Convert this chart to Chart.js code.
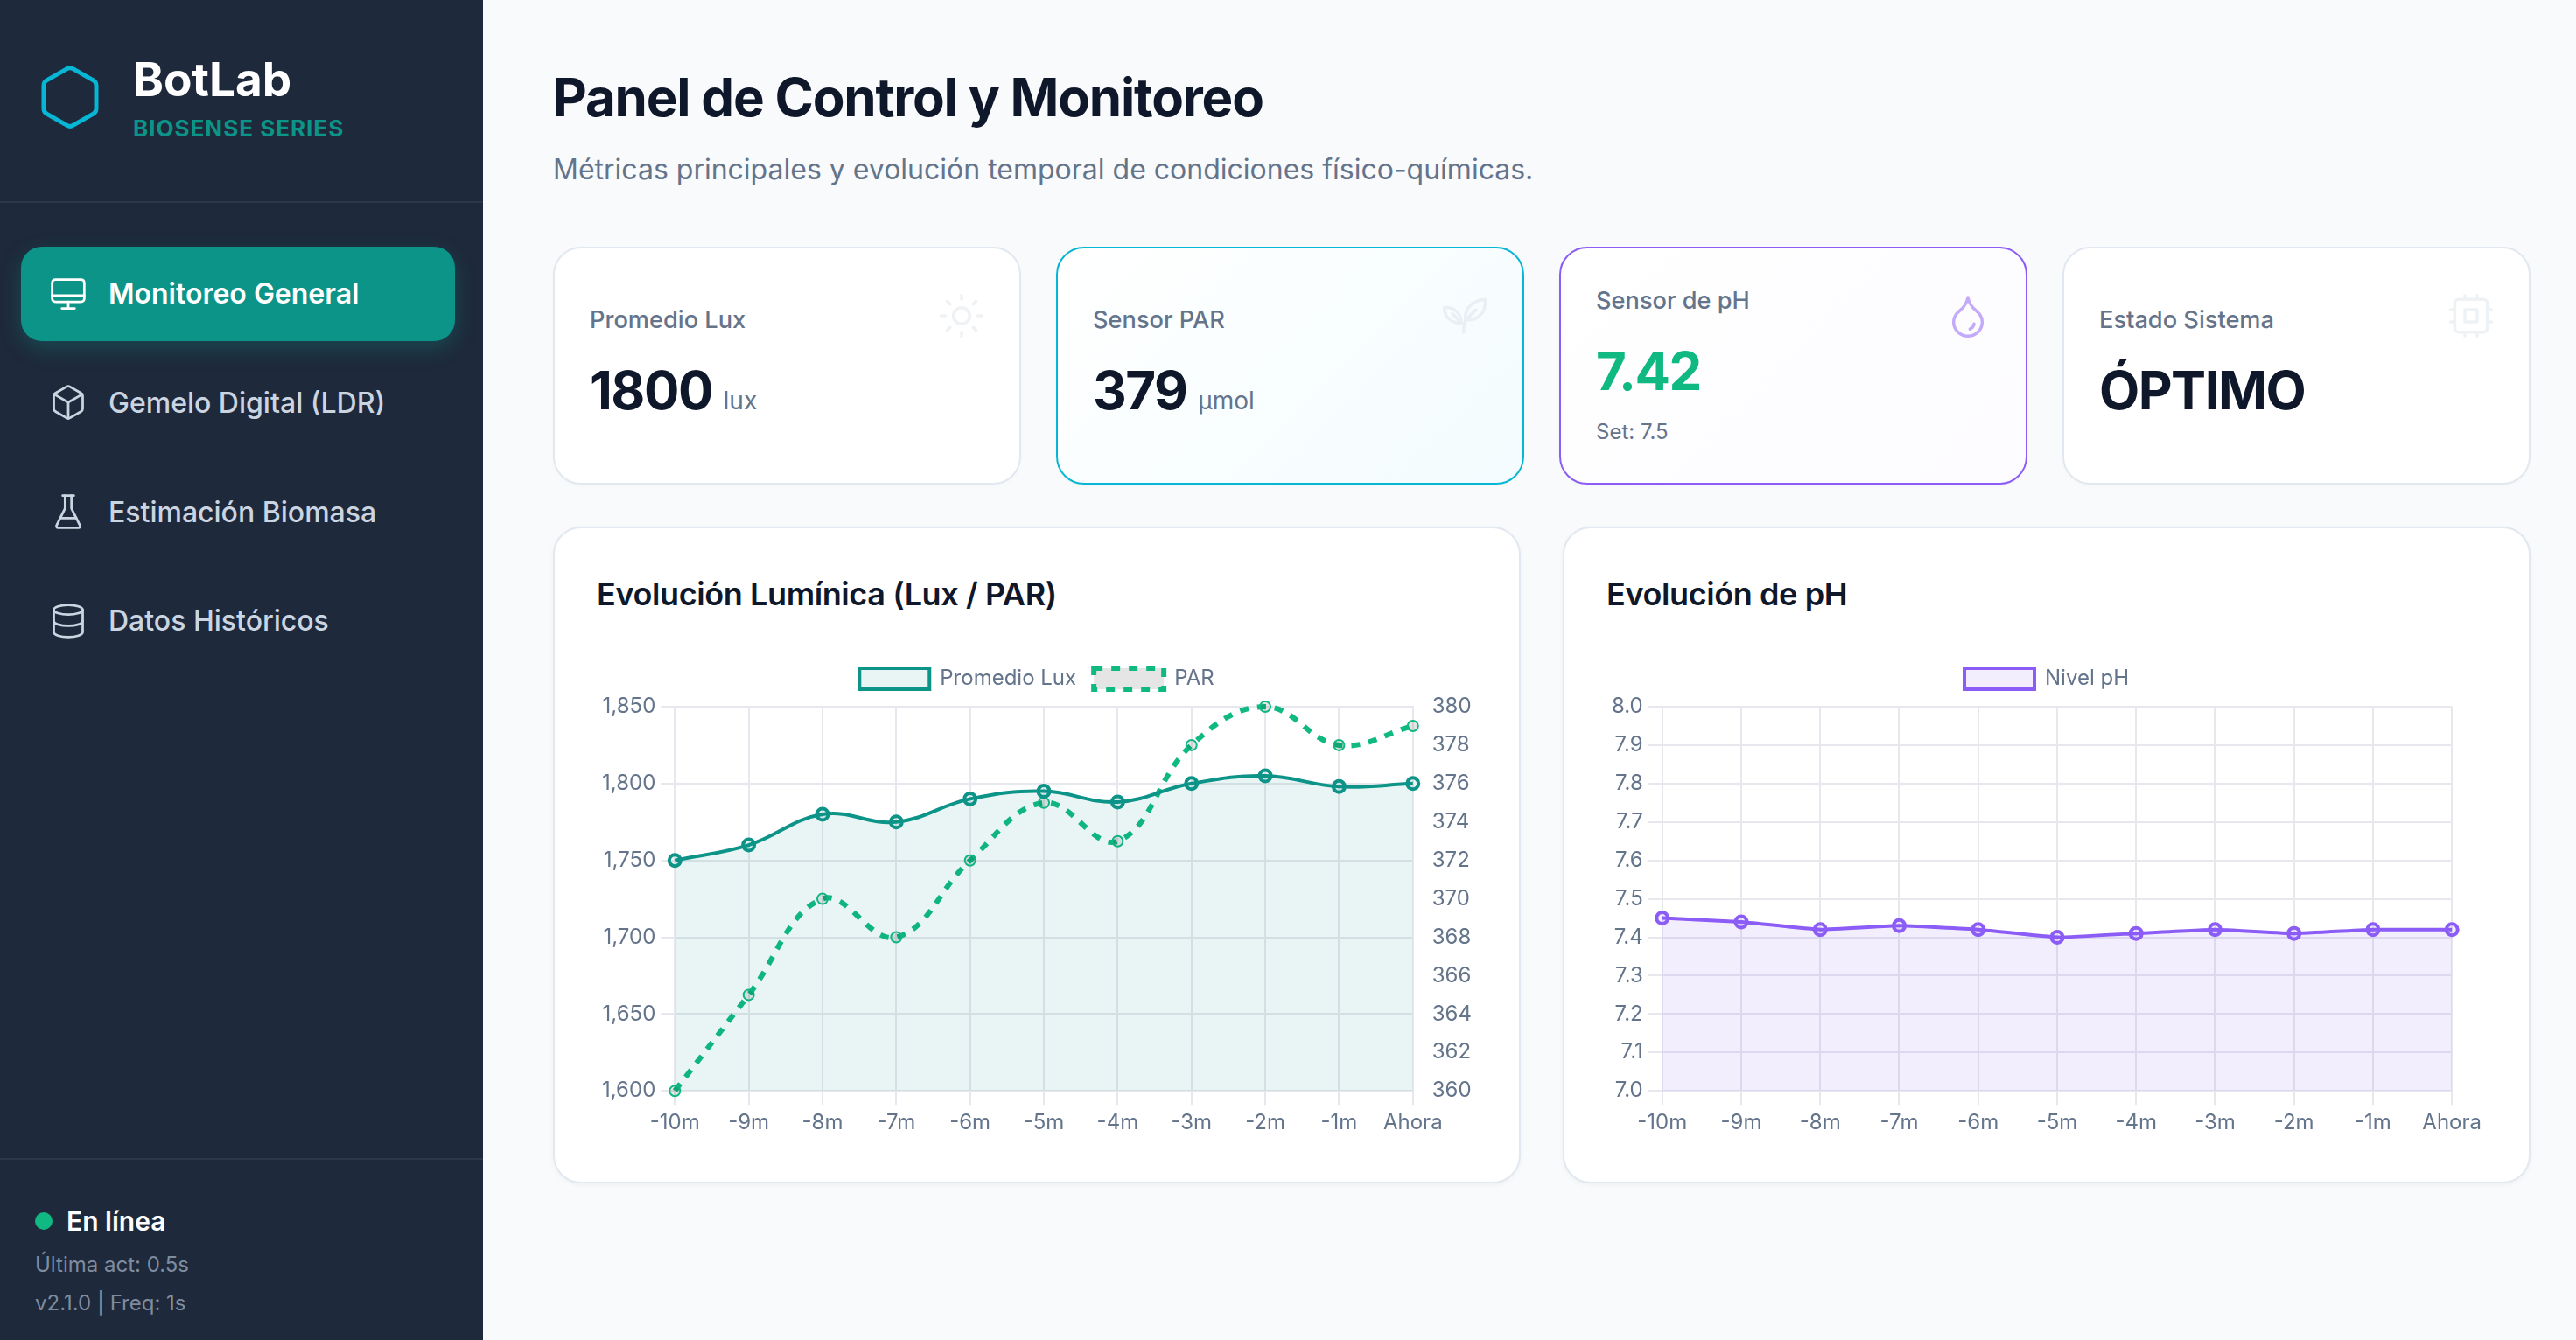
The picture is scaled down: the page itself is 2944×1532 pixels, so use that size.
<!DOCTYPE html>
<html lang="es">
<head>
<meta charset="utf-8">
<title>BotLab - Panel de Control</title>
<script src="https://cdn.jsdelivr.net/npm/chart.js@4"></script>
<style>
  * { box-sizing: border-box; margin: 0; padding: 0; }
  /* the layout is written at 1472x766 and doubled to fill the window */
  html { zoom: 2; }
  body { width: 1472px; height: 766px; overflow: hidden; background: #f8fafc; font-family: Inter, sans-serif; position: relative; }
  svg { fill: none; stroke: currentColor; stroke-width: 2; stroke-linecap: round; stroke-linejoin: round; display: block; }

  .sidebar { position: absolute; left: 0; top: 0; width: 276px; height: 766px; background: #1e293b; }
  .logo-icon { position: absolute; left: 20px; top: 35.5px; width: 40px; height: 40px; color: #06b6d4; stroke-width: 1.5; }
  .logo-name { position: absolute; left: 76px; top: 29.5px; font-size: 26.5px; line-height: 32px; font-weight: 700; color: #fff; }
  .logo-sub { position: absolute; left: 76px; top: 64.5px; font-size: 13px; line-height: 18px; font-weight: 700; color: #0d9488; letter-spacing: .5px; }
  .divider { position: absolute; left: 0; width: 276px; height: 1px; background: #2b374a; }
  .nav { position: absolute; left: 12px; top: 140.8px; width: 248px; }
  .nav-item { height: 54px; margin-bottom: 8.4px; border-radius: 12px; display: flex; align-items: center; padding-left: 16px; gap: 12px; color: #cbd5e1; font-size: 16px; font-weight: 500; }
  .nav-item svg { width: 22px; height: 22px; stroke-width: 1.5; flex: none; }
  .nav-item.active { background: #0d9488; color: #fff; font-weight: 600; box-shadow: 0 4px 12px rgba(13,148,136,.3); }
  .status { position: absolute; left: 20px; top: 688px; display: flex; align-items: center; gap: 8px; font-size: 15px; line-height: 20px; font-weight: 600; color: #fff; }
  .dot { width: 10px; height: 10px; border-radius: 50%; background: #10b981; }
  .foot { position: absolute; left: 20px; font-size: 12px; line-height: 16px; color: #7f8c9f; }

  .main { position: absolute; left: 316px; top: 0; width: 1130px; height: 766px; }
  h1 { position: absolute; left: 0; top: 37.5px; font-size: 30px; line-height: 36px; font-weight: 700; color: #0f172a; white-space: nowrap; letter-spacing: -0.6px; }
  .sub { position: absolute; left: 0; top: 85px; font-size: 16px; line-height: 24px; color: #64748b; white-space: nowrap; }

  .kpi { position: absolute; top: 141px; width: 267.5px; height: 136px; background: #fff; border: 1px solid #e2e8f0; border-radius: 16px; box-shadow: 0 1px 2px rgba(0,0,0,.02); }
  .kpi.par { border-color: #06b6d4; background: linear-gradient(135deg, #ffffff, #f3fcfe); }
  .kpi.ph { border-color: #8b5cf6; background: linear-gradient(135deg, #ffffff, #fcfbff); }
  .kpi-label { position: absolute; left: 20px; font-size: 13.6px; line-height: 20px; font-weight: 500; color: #64748b; }
  .kpi-value { position: absolute; left: 20px; font-size: 30px; line-height: 36px; font-weight: 700; color: #0f172a; white-space: nowrap; letter-spacing: -0.75px; }
  .kpi-value small { font-size: 14px; font-weight: 400; color: #64748b; letter-spacing: 0; }
  .kpi-note { position: absolute; left: 20px; top: 97px; font-size: 12px; line-height: 16px; color: #64748b; }
  .kpi svg { position: absolute; left: 218.7px; top: 24.3px; width: 28px; height: 28px; stroke-width: 1.5; color: #cbd5e1; opacity: .3; }
  .kpi.ph svg { color: #8b5cf6; opacity: .5; }

  .card { position: absolute; top: 301px; width: 553px; height: 375.5px; background: #fff; border: 1px solid #e2e8f0; border-radius: 16px; box-shadow: 0 1px 3px rgba(0,0,0,.04); }
  .card h2 { position: absolute; left: 24px; top: 25.5px; font-size: 18px; line-height: 24px; font-weight: 600; color: #0f172a; white-space: nowrap; letter-spacing: -0.2px; }
  .card canvas { position: absolute; left: 24px; top: 70px; }
</style>
</head>
<body>
  <aside class="sidebar">
    <svg class="logo-icon" viewBox="0 0 24 24"><path d="M21 16V8a2 2 0 0 0-1-1.73l-7-4a2 2 0 0 0-2 0l-7 4A2 2 0 0 0 3 8v8a2 2 0 0 0 1 1.73l7 4a2 2 0 0 0 2 0l7-4A2 2 0 0 0 21 16z"/></svg>
    <div class="logo-name">BotLab</div>
    <div class="logo-sub">BIOSENSE SERIES</div>
    <div class="divider" style="top:115px"></div>
    <nav class="nav">
      <div class="nav-item active"><svg viewBox="0 0 24 24"><rect x="2" y="3" width="20" height="14" rx="2"/><path d="M2 13h20M12 17v4M8 21h8"/></svg>Monitoreo General</div>
      <div class="nav-item"><svg viewBox="0 0 24 24"><path d="M21 8a2 2 0 0 0-1-1.73l-7-4a2 2 0 0 0-2 0l-7 4A2 2 0 0 0 3 8v8a2 2 0 0 0 1 1.73l7 4a2 2 0 0 0 2 0l7-4A2 2 0 0 0 21 16Z"/><path d="m3.3 7 8.7 5 8.7-5M12 22V12"/></svg>Gemelo Digital (LDR)</div>
      <div class="nav-item"><svg viewBox="0 0 24 24"><path d="M10 2v7.527a2 2 0 0 1-.211.896L4.72 20.55a1 1 0 0 0 .9 1.45h12.76a1 1 0 0 0 .9-1.45l-5.069-10.127A2 2 0 0 1 14 9.527V2"/><path d="M8.5 2h7M7 16h10"/></svg>Estimación Biomasa</div>
      <div class="nav-item"><svg viewBox="0 0 24 24"><ellipse cx="12" cy="5" rx="9" ry="3"/><path d="M3 5V19A9 3 0 0 0 21 19V5"/><path d="M3 12A9 3 0 0 0 21 12"/></svg>Datos Históricos</div>
    </nav>
    <div class="divider" style="top:662px"></div>
    <div class="status"><span class="dot"></span>En línea</div>
    <div class="foot" style="top:715px">Última act: 0.5s</div>
    <div class="foot" style="top:737px">v2.1.0 | Freq: 1s</div>
  </aside>

  <main class="main">
    <h1>Panel de Control y Monitoreo</h1>
    <p class="sub">Métricas principales y evolución temporal de condiciones físico-químicas.</p>

    <div class="kpi" style="left:0">
      <div class="kpi-label" style="top:31px">Promedio Lux</div>
      <div class="kpi-value" style="top:63px">1800 <small>lux</small></div>
      <svg viewBox="0 0 24 24"><circle cx="12" cy="12" r="4"/><path d="M12 2v2M12 20v2M4.93 4.93l1.41 1.41M17.66 17.66l1.41 1.41M2 12h2M20 12h2M6.34 17.66l-1.41 1.41M19.07 4.93l-1.41 1.41"/></svg>
    </div>
    <div class="kpi par" style="left:287.5px">
      <div class="kpi-label" style="top:31px">Sensor PAR</div>
      <div class="kpi-value" style="top:63px">379 <small>µmol</small></div>
      <svg viewBox="0 0 24 24"><path d="M12.5 14c-1-5 3-9.5 9.5-10 .5 6-3 10.5-9.5 10z"/><path d="M12.5 14l5-5"/><path d="M10.5 15.5c-5 .5-8.5-3-8.5-7.5 4-.5 8 2 8.5 7.5z"/><path d="M6 11l4.5 4.5"/><path d="M11.5 20c0-2 0-4 1-6"/></svg>
    </div>
    <div class="kpi ph" style="left:575px">
      <div class="kpi-label" style="top:20px">Sensor de pH</div>
      <div class="kpi-value" style="top:52px;color:#10b981">7.42</div>
      <div class="kpi-note">Set: 7.5</div>
      <svg viewBox="0 0 24 24"><path d="M12 22a7 7 0 0 0 7-7c0-2-1-3.9-3-5.5s-3.5-4-4-6.5c-.5 2.5-2 4.9-4 6.5C6 11.1 5 13 5 15a7 7 0 0 0 7 7z"/><path d="M15 16a3.5 3.5 0 0 1-2 2.5"/></svg>
    </div>
    <div class="kpi" style="left:862.5px">
      <div class="kpi-label" style="top:31px">Estado Sistema</div>
      <div class="kpi-value" style="top:63px">ÓPTIMO</div>
      <svg viewBox="0 0 24 24"><rect x="4" y="4" width="16" height="16" rx="2"/><rect x="9" y="9" width="6" height="6"/><path d="M15 2v2M15 20v2M2 15h2M2 9h2M20 15h2M20 9h2M9 2v2M9 20v2"/></svg>
    </div>

    <section class="card" style="left:0">
      <h2>Evolución Lumínica (Lux / PAR)</h2>
      <canvas id="luxChart" width="503" height="280"></canvas>
    </section>
    <section class="card" style="left:577px">
      <h2>Evolución de pH</h2>
      <canvas id="phChart" width="503" height="280"></canvas>
    </section>
  </main>

<script>
// valores
const timeLabels = ["-10m", "-9m", "-8m", "-7m", "-6m", "-5m", "-4m", "-3m", "-2m", "-1m", "Ahora"];
const luxValues = [1750, 1760, 1780, 1775, 1790, 1795, 1788, 1800, 1805, 1798, 1800];
const parValues = [360, 365, 370, 368, 372, 375, 373, 378, 380, 378, 379];
const phValues = [7.45, 7.44, 7.42, 7.43, 7.42, 7.40, 7.41, 7.42, 7.41, 7.42, 7.42];

const tickColor = "#64748b";
const gridColor = "#e6e8ee";

Chart.defaults.font.family = "Inter, sans-serif";
Chart.defaults.color = tickColor;
Chart.defaults.animation = false;
Chart.defaults.borderColor = gridColor;

const baseOptions = {
  responsive: false,
  devicePixelRatio: 2
};

new Chart(document.getElementById("luxChart"), {
  type: "line",
  data: {
    labels: timeLabels,
    datasets: [
      {
        label: "Promedio Lux",
        data: luxValues,
        borderColor: "#0d9488",
        backgroundColor: "rgba(13,148,136,0.09)",
        borderWidth: 2,
        pointRadius: 3.25,
        pointBorderWidth: 2,
        tension: 0.4,
        fill: true,
        yAxisID: "y"
      },
      {
        label: "PAR",
        data: parValues,
        borderColor: "#10b981",
        borderWidth: 3,
        borderDash: [5, 5],
        pointRadius: 3,
        pointBorderWidth: 1,
        tension: 0.4,
        clip: false,
        yAxisID: "y1"
      }
    ]
  },
  options: {
    ...baseOptions,
    scales: {
      y: { min: 1600, max: 1850, ticks: { stepSize: 50 } },
      y1: { position: "right", min: 360, max: 380, ticks: { stepSize: 2 }, grid: { display: false } }
    }
  }
});

new Chart(document.getElementById("phChart"), {
  type: "line",
  data: {
    labels: timeLabels,
    datasets: [{
      label: "Nivel pH",
      data: phValues,
      borderColor: "#8b5cf6",
      backgroundColor: "rgba(139,92,246,0.1)",
      borderWidth: 2,
      pointRadius: 3.25,
      pointBorderWidth: 2,
      tension: 0.1,
      fill: true
    }]
  },
  options: {
    ...baseOptions,
    scales: {
      y: { min: 7, max: 8, ticks: { stepSize: 0.1 } }
    }
  }
});
</script>
</body>
</html>
